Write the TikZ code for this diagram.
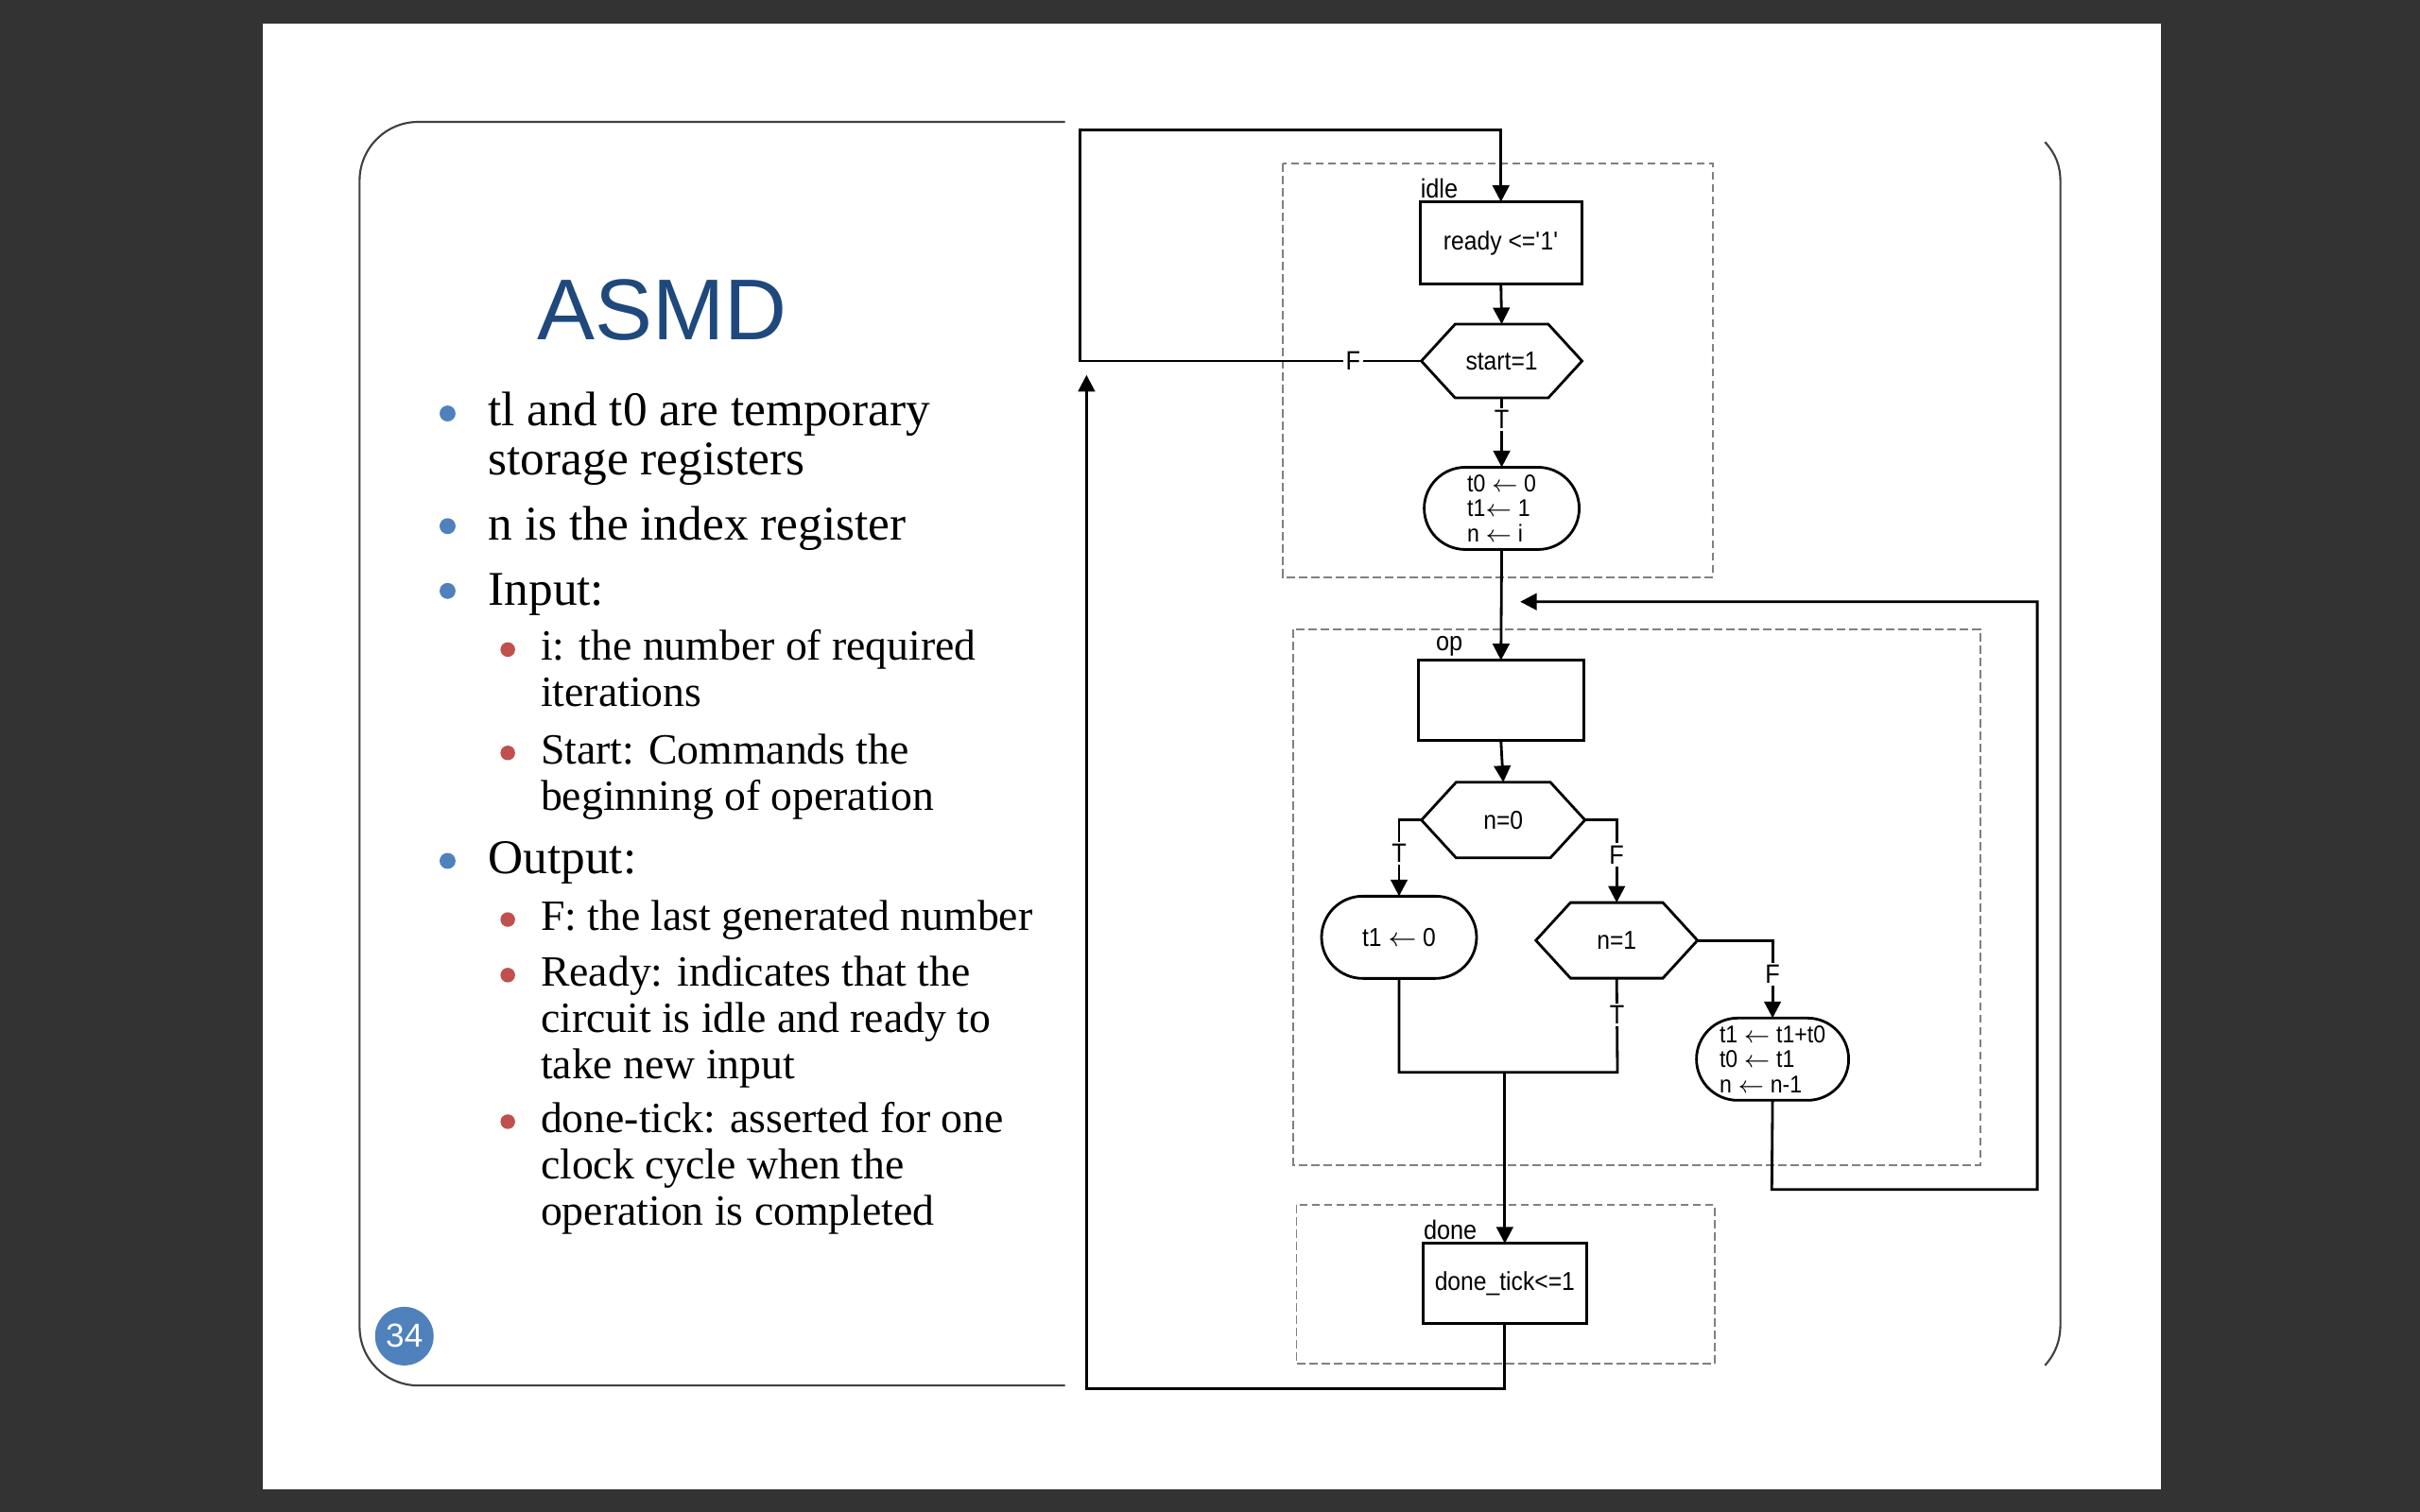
\documentclass[tikz,border=0pt]{standalone}
\usepackage{fontspec}
\setmainfont{Liberation Serif}
\newfontfamily\chartfont[FakeStretch=0.9]{Liberation Sans}
\newfontfamily\headfont{Liberation Sans}
\usepackage{tikz}
\usetikzlibrary{positioning,calc,arrows.meta,shapes.misc,shapes.symbols}
\definecolor{slidebg}{HTML}{333333}
\definecolor{accentblue}{HTML}{4F81BD}
\definecolor{accentred}{HTML}{C0504D}
\definecolor{titleblue}{HTML}{1F497D}
\tikzstyle{line} = [draw,line width=0.8pt]
\tikzstyle{arr} = [line,-{Triangle[length=5pt,width=5pt]}]
\tikzstyle{block} = [draw,line width=0.8pt,rectangle,outer sep=0pt,inner sep=1pt,font=\chartfont\fontsize{7.8}{7}\selectfont]
\tikzstyle{decision} = [block,signal,signal to=east and west,signal pointer angle=95]
\tikzstyle{condout} = [block,rounded rectangle,align=left,font=\chartfont\fontsize{7.3}{7.5}\selectfont]
\tikzstyle{lbl} = [fill=white,inner sep=0.7pt,font=\chartfont\fontsize{8}{8}\selectfont]
\tikzstyle{tag} = [inner sep=0pt,anchor=south west,font=\chartfont\fontsize{8}{8}\selectfont]
\tikzstyle{statebox} = [draw=gray,line width=0.5pt,dash pattern=on 2.5pt off 1.2pt]
\tikzstyle{frame} = [draw=black!75,line width=0.6pt]
\tikzstyle{bodyA} = [anchor=base west,inner sep=0pt,font=\fontsize{14.6}{16}\selectfont]
\tikzstyle{bodyB} = [anchor=base west,inner sep=0pt,font=\fontsize{13}{14}\selectfont]

\begin{document}
\begin{tikzpicture}[x=0.016327cm,y=-0.016327cm]
  \useasboundingbox (0,0) rectangle (1568,980);
  \fill[slidebg] (0,0) rectangle (1568,980);
  \fill[white] (170,15) rectangle (1400,965);

  % slide frame
  \draw[frame,rounded corners=0.62cm] (690,79) -- (233,79) -- (233,898) -- (690,898);
  \draw[frame] (1325,92) .. controls (1332,100) and (1335,107) .. (1335,118) -- (1335,858)
    .. controls (1335,869) and (1332,877) .. (1325,885);

  % left column
  \node[anchor=base west,inner sep=0pt,text=titleblue,font=\headfont\fontsize{26}{26}\selectfont] (title) at (348,220) {ASMD};
  \foreach \y/\t in {276/tl and t0 are temporary,308/storage registers,350/n is the index register,
      392/Input:,566/Output:}
    \node[bodyA] at (316,\y) {\t};
  \foreach \y/\t in {428/i: the number of required,458/iterations,495/Start: Commands the,
      525/beginning of operation,603/F: the last generated number,639/Ready: indicates that the,
      669/circuit is idle and ready to,699/take new input,734/done-tick: asserted for one,
      764/clock cycle when the,794/operation is completed}
    \node[bodyB] at (350,\y) {\t};
  \foreach \y in {268,341,383,558}
    \fill[accentblue] (290,\y) circle[radius=2.4pt];
  \foreach \y in {421,488,596,632,727}
    \fill[accentred] (329,\y) circle[radius=2.2pt];
  \node[circle,fill=accentblue,minimum size=0.62cm,inner sep=0pt,text=white,
    font=\headfont\fontsize{10}{10}\selectfont] (pagenum) at (262,866) {34};

  % state boxes
  \draw[statebox] (831,106) rectangle (1110,374);
  \draw[statebox] (838,408) rectangle (1283,755);
  \draw[statebox] (840,781) rectangle (1111,884);

  % idle
  \node[block,minimum width=1.71cm,minimum height=0.87cm] (ready) at (972.5,157.5) {ready <=\textquotesingle1\textquotesingle};
  \node[tag] (idletag) at (920,129) {idle};
  \node[decision,minimum width=1.70cm,minimum height=0.78cm] (start) at (973,234) {start=1};
  \node[condout,minimum width=1.71cm,minimum height=0.87cm] (init) at (973,329.5)
    {t0 $\leftarrow$ 0\\t1$\leftarrow$ 1\\n $\leftarrow$ i};

  % op
  \node[block,minimum width=1.75cm,minimum height=0.85cm] (opbox) at (972.5,454) {};
  \node[tag] (optag) at (930,426) {op};
  \node[decision,minimum width=1.73cm,minimum height=0.80cm] (nzero) at (974,531.5) {n=0};
  \node[condout,minimum width=1.71cm,minimum height=0.87cm,font=\chartfont\fontsize{7.8}{7}\selectfont] (clrt) at (906.5,607.5) {t1 $\leftarrow$ 0};
  \node[decision,minimum width=1.71cm,minimum height=0.80cm] (none) at (1047.5,609.5) {n=1};
  \node[condout,minimum width=1.68cm,minimum height=0.87cm] (upd) at (1148.5,686.5)
    {t1 $\leftarrow$ t1+t0\\t0 $\leftarrow$ t1\\n $\leftarrow$ n-1};

  % done
  \node[block,minimum width=1.73cm,minimum height=0.85cm] (donebox) at (975,832) {done\_tick<=1};
  \node[tag] (donetag) at (922,804) {done};

  % corners of the loops
  \coordinate (floopa) at (700,234);
  \coordinate (floopb) at (700,84);
  \coordinate (joinr) at (1048,695);
  \coordinate (joinm) at (donebox.north |- joinr);
  \coordinate (fba) at (1148,771);
  \coordinate (fbb) at (1320,771);
  \coordinate (fbc) at (1320,390);
  \coordinate (fbend) at (985,390);
  \coordinate (dla) at (975,900);
  \coordinate (dlb) at (704,900);
  \coordinate (dlend) at (704,243);

  % connectors
  \draw[arr] (start.west) -- node[lbl,pos=0.2]{F} (floopa) -- (floopb) -| (ready.north);
  \draw[arr] (ready.south) -- (start.north);
  \draw[arr] (start.south) -- node[lbl,pos=0.31]{T} (init.north);
  \draw[arr] (init.south) -- (opbox.north);
  \draw[arr] (opbox.south) -- (nzero.north);
  \draw[arr] (nzero.west) -| node[lbl,pos=0.72]{T} (clrt.north);
  \draw[arr] (nzero.east) -| node[lbl,pos=0.71]{F} (none.north);
  \draw[arr] (none.east) -| node[lbl,pos=0.72]{F} (upd.north);
  \draw[line] (none.south) -- node[lbl,pos=0.39]{T} (joinr) -| (clrt.south);
  \draw[arr] (joinm) -- (donebox.north);
  \draw[arr] (upd.south) -- (fba) -- (fbb) -- (fbc) -- (fbend);
  \draw[arr] (donebox.south) -- (dla) -- (dlb) -- (dlend);
\end{tikzpicture}
\end{document}
